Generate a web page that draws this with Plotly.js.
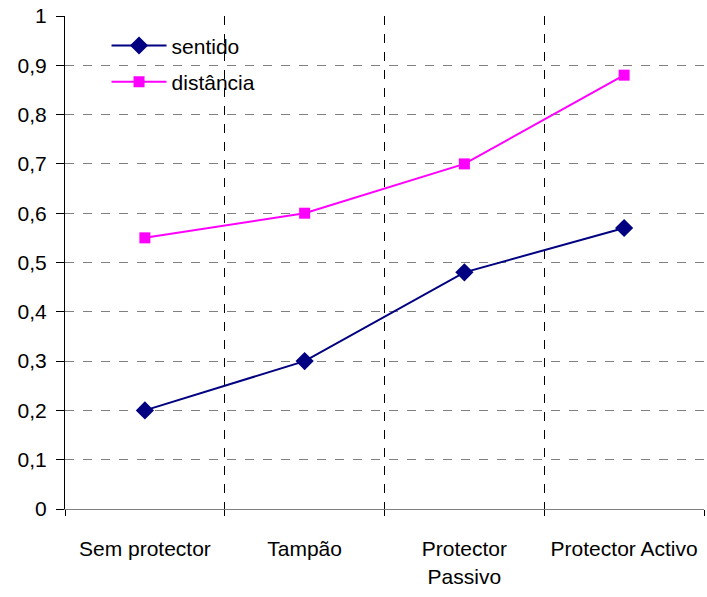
<!DOCTYPE html>
<html>
<head>
<meta charset="utf-8">
<script src="https://cdn.plot.ly/plotly-3.0.1.min.js"></script>
<style>html,body{margin:0;padding:0;background:#fff;}#chart{width:707px;height:597px;}</style>
</head>
<body>
<div id="chart"></div>
<script>
var categories = ["Sem protector", "Tampão", "Protector<br>Passivo", "Protector Activo"];
var sentido = [0.2, 0.3, 0.48, 0.57];
var distancia = [0.55, 0.6, 0.7, 0.88];
var yTicks = [0, 0.1, 0.2, 0.3, 0.4, 0.5, 0.6, 0.7, 0.8, 0.9, 1];

var idx = categories.map(function(_, i){ return i; });
var bounds = [-0.5].concat(idx.map(function(i){ return i + 0.5; }));
var font = "Liberation Sans, Arial, sans-serif";

var traces = [
  {x: idx, y: sentido, name: "sentido", mode: "lines+markers", legendgroup: "a",
   line: {color: "#000080", width: 2}, marker: {symbol: "diamond", size: 14, color: "#000080"}},
  {x: idx, y: distancia, name: "distância", mode: "lines+markers", legendgroup: "b",
   line: {color: "#FF00FF", width: 2}, marker: {symbol: "square", size: 11, color: "#FF00FF"}},
  {x: [bounds[0]], y: [null], xaxis: "x2", showlegend: false, hoverinfo: "skip", mode: "markers"}
];

var layout = {
  width: 707, height: 597,
  margin: {l: 65, r: 3, t: 16, b: 88},
  paper_bgcolor: "#fff", plot_bgcolor: "#fff",
  separators: ", ",
  font: {family: font, size: 21, color: "#000"},
  showlegend: true,
  legend: {x: 0.065, y: 0.981, xanchor: "left", yanchor: "top", bgcolor: "rgba(0,0,0,0)",
           font: {family: font, size: 21}, itemwidth: 55, tracegroupgap: 6, traceorder: "grouped"},
  xaxis: {
    range: [-0.5, 3.5], tickmode: "array", tickvals: idx, ticktext: categories,
    showgrid: false, zeroline: false, showline: true, linecolor: "#808080", linewidth: 1,
    ticks: "", ticklabelstandoff: 21, fixedrange: true
  },
  xaxis2: {
    overlaying: "x", anchor: "y", side: "bottom", range: [-0.5, 3.5],
    tickmode: "array", tickvals: bounds, showticklabels: false,
    ticks: "outside", ticklen: 6, tickcolor: "#000", tickwidth: 1,
    showgrid: true, gridcolor: "#000", griddash: "dash", gridwidth: 1, zeroline: false, showline: false
  },
  yaxis: {
    range: [0, 1], tickmode: "array", tickvals: yTicks,
    showgrid: true, gridcolor: "#808080", griddash: "dash", gridwidth: 1,
    zeroline: false, showline: true, linecolor: "#000", linewidth: 1,
    ticks: "outside", ticklen: 8, tickcolor: "#000", ticklabelstandoff: 5
  }
};

Plotly.newPlot("chart", traces, layout, {displayModeBar: false, staticPlot: true});
</script>
</body>
</html>
